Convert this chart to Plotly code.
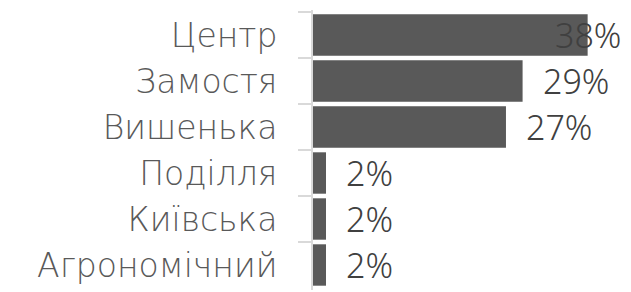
import plotly.graph_objects as go

categories = ["Центр", "Замостя", "Вишенька", "Поділля", "Київська", "Агрономічний"]
values = [38.0, 29.0, 26.7, 1.8, 1.8, 1.8]
labels = ["38%", "29%", "27%", "2%", "2%", "2%"]

VAL_FONT = "Noto Sans"
CAT_FONT = "DejaVu Sans"
X_MAX = 44

fig = go.Figure(go.Bar(
    y=categories, x=values, orientation="h",
    marker=dict(color="#595959", line=dict(width=0)),
    hoverinfo="skip",
))

annotations = []
for c, v, t in zip(categories, values, labels):
    font = dict(family=VAL_FONT, size=34, color="#404040", weight=300)
    if v > 34:  # label would overflow the chart area: clamp to right edge
        annotations.append(dict(x=1, xref="paper", y=c, yref="y", text=t,
                                xanchor="right", xshift=-8, showarrow=False, font=font))
    else:
        annotations.append(dict(x=v, xref="x", y=c, yref="y", text=t,
                                xanchor="left", xshift=18, showarrow=False, font=font))

fig.update_layout(
    template="none",
    width=631, height=292,
    margin=dict(l=313, r=0, t=10, b=2, autoexpand=False),
    paper_bgcolor="white", plot_bgcolor="white",
    bargap=0.1,
    showlegend=False,
    annotations=annotations,
    xaxis=dict(range=[0, X_MAX], visible=False, showgrid=False, zeroline=False,
               automargin=False, fixedrange=True),
    yaxis=dict(
        categoryorder="array", categoryarray=categories, autorange="reversed",
        automargin=False, fixedrange=True,
        showline=True, linecolor="#d9d9d9", linewidth=2,
        ticks="outside", tickson="boundaries", ticklen=13, tickcolor="#d9d9d9", tickwidth=2,
        ticklabelstandoff=27,
        tickfont=dict(family=CAT_FONT, size=33, color="#595959", weight=300),
        showgrid=False, zeroline=False,
    ),
)

fig.write_html("out.html", config={"displayModeBar": False},
               post_script="document.body.style.margin='0';")
